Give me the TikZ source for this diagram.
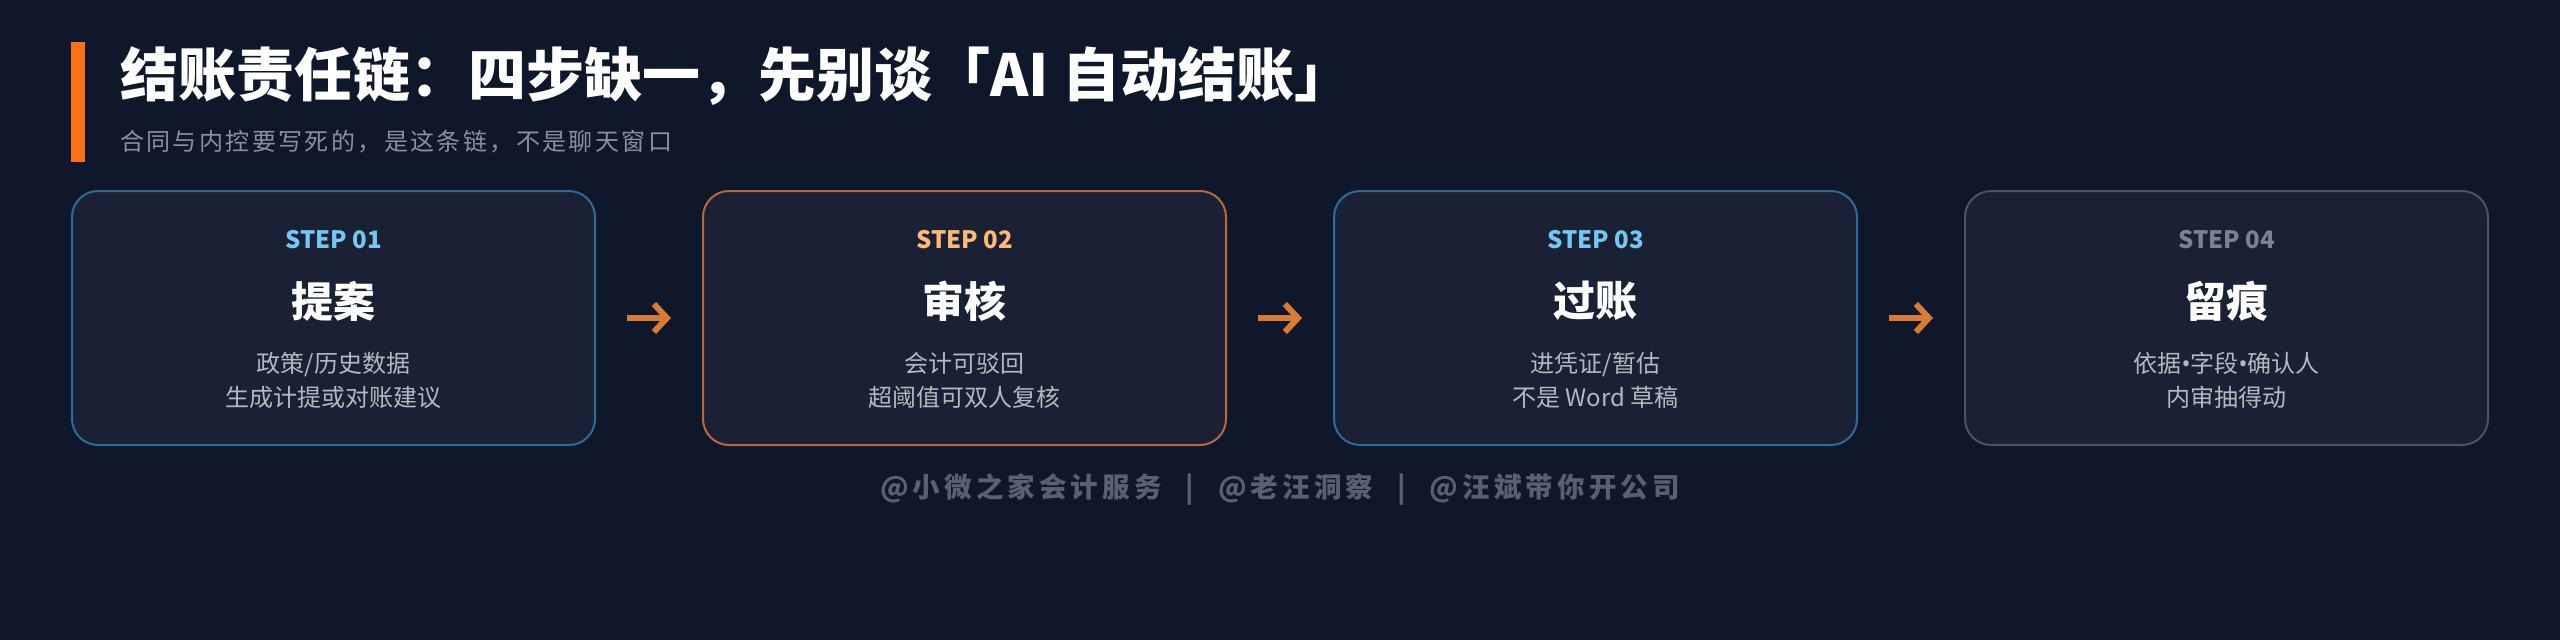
\documentclass[tikz,border=0pt]{standalone}
\usepackage{fontspec}
\setmainfont{Noto Sans CJK SC}
\newfontfamily\cjksub[LetterSpace=10]{Noto Sans CJK SC}
\newfontfamily\cjkfoot[LetterSpace=15]{Noto Sans CJK SC}
\newfontfamily\latinsans{Noto Sans}
\usetikzlibrary{calc,
positioning,
arrows.meta,
backgrounds}

\definecolor{bgnavy}{HTML}{0F172A}
\definecolor{boxfill}{HTML}{1B2134}
\definecolor{edgeblue}{HTML}{2D6B98}
\definecolor{edgeorange}{HTML}{B8693A}
\definecolor{edgegray}{HTML}{4B5366}
\definecolor{tagblue}{HTML}{72C8F2}
\definecolor{tagorange}{HTML}{FDBA74}
\definecolor{taggray}{HTML}{7C828E}
\definecolor{desctext}{HTML}{B4B8C0}
\definecolor{subgray}{HTML}{8A909C}
\definecolor{footgray}{HTML}{5A6072}
\definecolor{arroworange}{HTML}{D97B35}
\definecolor{accent}{HTML}{F97316}

\newcommand*{\sep}{{\latinsans\textbullet}}

\begin{document}
\begin{tikzpicture} [x=1pt, y=-1pt,
    show background rectangle,
    inner frame sep = 0pt,
    background rectangle/.style={fill=bgnavy},
    every node/.style={inner sep = 0pt},
    stage box/.style={rectangle, rounded corners = 26pt, fill = boxfill,
        line width = 2pt, outer sep = 0pt,
        minimum width = 523pt, minimum height = 254pt},
    step tag/.style={font=\bfseries\fontsize{24}{28}\selectfont, text = #1},
    step title/.style={font=\bfseries\fontsize{42}{48}\selectfont, text = white},
    step text/.style={font=\fontsize{24}{34}\selectfont, text = desctext,
        align = center},
    flow/.style={draw = arroworange, line width = 6pt,
        -{Straight Barb[length = 13pt, width = 28pt]},
        shorten <= 32pt, shorten >= 32pt}
  ]

  \useasboundingbox (0, 0) rectangle (2560, 640);

  \node [fill = accent,
    minimum width = 14pt,
    minimum height = 120pt
  ] (bar) at (78, 102) {};

  \node [anchor = west,
    font = \bfseries\fontsize{58}{62}\selectfont,
    text = white
  ] (title) at (120, 76) {结账责任链：四步缺一，先别谈「AI 自动结账」};

  \node [anchor = west,
    font = \cjksub\fontsize{24}{28}\selectfont,
    text = subgray
  ] (sub) at (120, 142) {合同与内控要写死的，是这条链，不是聊天窗口};

  \node [stage box,
    draw = edgeblue
  ] (s1) at (333.5, 318) {};

  \node [stage box,
    draw = edgeorange,
    right = 108pt of s1
  ] (s2) {};

  \node [stage box,
    draw = edgeblue,
    right = 108pt of s2
  ] (s3) {};

  \node [stage box,
    draw = edgegray,
    right = 108pt of s3
  ] (s4) {};

  % soft glow round the active step
  \begin{scope}[on background layer]
    \foreach \g in {4, 8, ..., 40}
      \fill [arroworange, opacity = 0.025, rounded corners = (26 + \g) * 1pt]
        ($(s2.north west) + (-\g, -\g)$) rectangle ($(s2.south east) + (\g, \g)$);
  \end{scope}

  \node [step tag = tagblue] (t1) at ($(s1.north) + (0, 49)$) {STEP 01};
  \node [step title] (h1) at ($(s1.north) + (0, 110)$) {提案};
  \node [step text] (d1) at ($(s1.north) + (0, 189)$) {政策/历史数据\\生成计提或对账建议};

  \node [step tag = tagorange] (t2) at ($(s2.north) + (0, 49)$) {STEP 02};
  \node [step title] (h2) at ($(s2.north) + (0, 110)$) {审核};
  \node [step text] (d2) at ($(s2.north) + (0, 189)$) {会计可驳回\\超阈值可双人复核};

  \node [step tag = tagblue] (t3) at ($(s3.north) + (0, 49)$) {STEP 03};
  \node [step title] (h3) at ($(s3.north) + (0, 110)$) {过账};
  \node [step text] (d3) at ($(s3.north) + (0, 189)$) {进凭证/暂估\\不是 Word 草稿};

  \node [step tag = taggray] (t4) at ($(s4.north) + (0, 49)$) {STEP 04};
  \node [step title] (h4) at ($(s4.north) + (0, 110)$) {留痕};
  \node [step text] (d4) at ($(s4.north) + (0, 189)$) {依据\sep 字段\sep 确认人\\内审抽得动};

  \draw [flow] (s1.east) -- (s2.west);
  \draw [flow] (s2.east) -- (s3.west);
  \draw [flow] (s3.east) -- (s4.west);

  \node [font = \cjkfoot\bfseries\fontsize{27.5}{30}\selectfont,
    text = footgray
  ] (foot) at (1280, 489) {@小微之家会计服务\hspace{24pt}|\hspace{24pt}@老汪洞察\hspace{24pt}|\hspace{24pt}@汪斌带你开公司};

\end{tikzpicture}
\end{document}
